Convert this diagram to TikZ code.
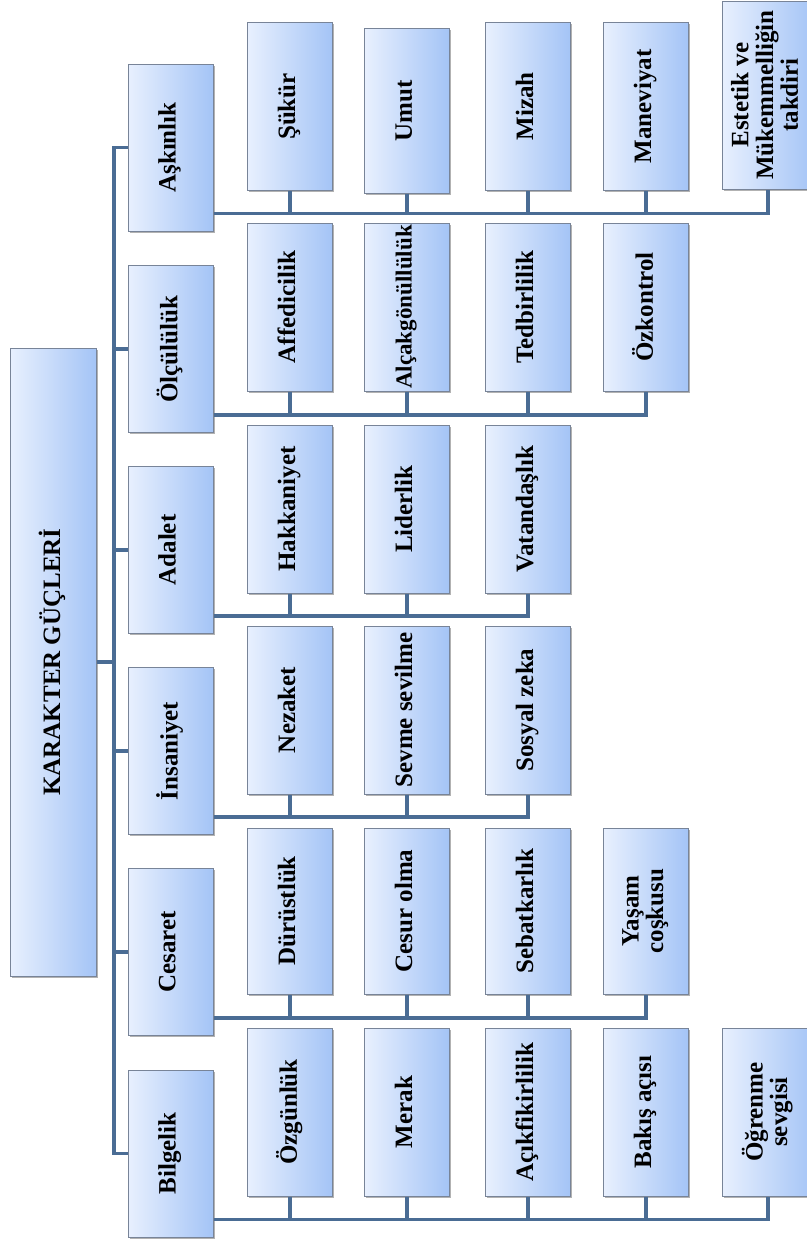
\documentclass[tikz,border=0pt]{standalone}
\usepackage{fontspec}
\setmainfont{Liberation Serif}
\usetikzlibrary{calc,shadows}
\definecolor{boxL}{RGB}{232,240,254}
\definecolor{boxR}{RGB}{164,196,246}
\definecolor{boxB}{RGB}{120,132,152}
\definecolor{connC}{RGB}{74,108,148}
\newcommand\rtext[1]{\rotatebox{90}{\begin{tabular}{@{}c@{}}#1\end{tabular}}}
\tikzset{
  cbox/.style={draw=boxB, line width=1pt, left color=boxL, right color=boxR,
    inner sep=0pt, minimum width=85pt, minimum height=168pt,
    font=\fontsize{25pt}{24pt}\selectfont\bfseries,
    drop shadow={shadow xshift=1.8pt, shadow yshift=-1.8pt, fill=black, opacity=0.3}},
  conn/.style={draw=connC, line width=3.6pt, line join=miter},
}
\begin{document}
\begin{tikzpicture}[x=1pt,y=-1pt]
\useasboundingbox (0,0) rectangle (806,1245);
% root
\node[cbox, minimum width=86pt, minimum height=628pt] (root) at (53,662) {\rtext{KARAKTER GÜÇLERİ}};
% categories
\node[cbox, minimum height=167pt] (c1) at (170.5,147.5) {\rtext{Aşkınlık}};
\node[cbox, minimum height=167pt] (c2) at (170.5,349) {\rtext{Ölçülülük}};
\node[cbox, minimum height=167pt] (c3) at (170.5,550) {\rtext{Adalet}};
\node[cbox, minimum height=167pt] (c4) at (170.5,751) {\rtext{İnsaniyet}};
\node[cbox, minimum height=167pt] (c5) at (170.5,952) {\rtext{Cesaret}};
\node[cbox, minimum height=167pt] (c6) at (170.5,1153.5) {\rtext{Bilgelik}};
% row 1
\node[cbox] (a1) at (290,106.5) {\rtext{Şükür}};
\node[cbox, minimum height=165pt] (a2) at (407,110.5) {\rtext{Umut}};
\node[cbox] (a3) at (528,106.5) {\rtext{Mizah}};
\node[cbox] (a4) at (646,106.5) {\rtext{Maneviyat}};
\node[cbox, minimum width=92pt, minimum height=188pt] (a5) at (768,95) {\rtext{Estetik ve\\Mükemmelliğin\\takdiri}};
% row 2
\node[cbox] (b1) at (290,307) {\rtext{Affedicilik}};
\node[cbox, font=\fontsize{23pt}{22pt}\selectfont\bfseries] (b2) at (407,307) {\rtext{Alçakgönüllülük}};
\node[cbox] (b3) at (528,307) {\rtext{Tedbirlilik}};
\node[cbox] (b4) at (646,307) {\rtext{Özkontrol}};
% row 3
\node[cbox] (d1) at (290,509) {\rtext{Hakkaniyet}};
\node[cbox] (d2) at (407,509) {\rtext{Liderlik}};
\node[cbox] (d3) at (528,509) {\rtext{Vatandaşlık}};
% row 4
\node[cbox] (e1) at (290,710) {\rtext{Nezaket}};
\node[cbox] (e2) at (407,710) {\rtext{Sevme sevilme}};
\node[cbox] (e3) at (528,710) {\rtext{Sosyal zeka}};
% row 5
\node[cbox, minimum height=166pt] (f1) at (290,911) {\rtext{Dürüstlük}};
\node[cbox, minimum height=166pt] (f2) at (407,911) {\rtext{Cesur olma}};
\node[cbox, minimum height=166pt] (f3) at (528,911) {\rtext{Sebatkarlık}};
\node[cbox, minimum height=166pt] (f4) at (646,911) {\rtext{Yaşam\\coşkusu}};
% row 6
\node[cbox] (g1) at (290,1112) {\rtext{Özgünlük}};
\node[cbox] (g2) at (407,1112) {\rtext{Merak}};
\node[cbox] (g3) at (528,1112) {\rtext{Açıkfikirlilik}};
\node[cbox] (g4) at (646,1112) {\rtext{Bakış açısı}};
\node[cbox, minimum width=92pt] (g5) at (768,1112) {\rtext{Öğrenme\\sevgisi}};
% trunk
\coordinate (tr) at (114,0);
\draw[conn] (root.east) -- (root.east -| tr);
\draw[conn] (c1.west) -- (c1.west -| tr) -- (c6.west -| tr) -- (c6.west);
\foreach \i in {2,3,4,5} \draw[conn] (c\i.west -| tr) -- (c\i.west);
% buses
\coordinate (y1) at ($(c1.south east)+(0,-18)$);
\coordinate (y2) at ($(c2.south east)+(0,-18)$);
\coordinate (y3) at ($(c3.south east)+(0,-18)$);
\coordinate (y4) at ($(c4.south east)+(0,-18)$);
\coordinate (y5) at ($(c5.south east)+(0,-18)$);
\coordinate (y6) at ($(c6.south east)+(0,-18)$);
\draw[conn] (y1) -- (y1 -| a5.south) -- (a5.south);
\foreach \n in {a1,a2,a3,a4} \draw[conn] (\n.south) -- (\n.south |- y1);
\draw[conn] (y2) -- (y2 -| b4.south) -- (b4.south);
\foreach \n in {b1,b2,b3} \draw[conn] (\n.south) -- (\n.south |- y2);
\draw[conn] (y3) -- (y3 -| d3.south) -- (d3.south);
\foreach \n in {d1,d2} \draw[conn] (\n.south) -- (\n.south |- y3);
\draw[conn] (y4) -- (y4 -| e3.south) -- (e3.south);
\foreach \n in {e1,e2} \draw[conn] (\n.south) -- (\n.south |- y4);
\draw[conn] (y5) -- (y5 -| f4.south) -- (f4.south);
\foreach \n in {f1,f2,f3} \draw[conn] (\n.south) -- (\n.south |- y5);
\draw[conn] (y6) -- (y6 -| g5.south) -- (g5.south);
\foreach \n in {g1,g2,g3,g4} \draw[conn] (\n.south) -- (\n.south |- y6);
\end{tikzpicture}
\end{document}
